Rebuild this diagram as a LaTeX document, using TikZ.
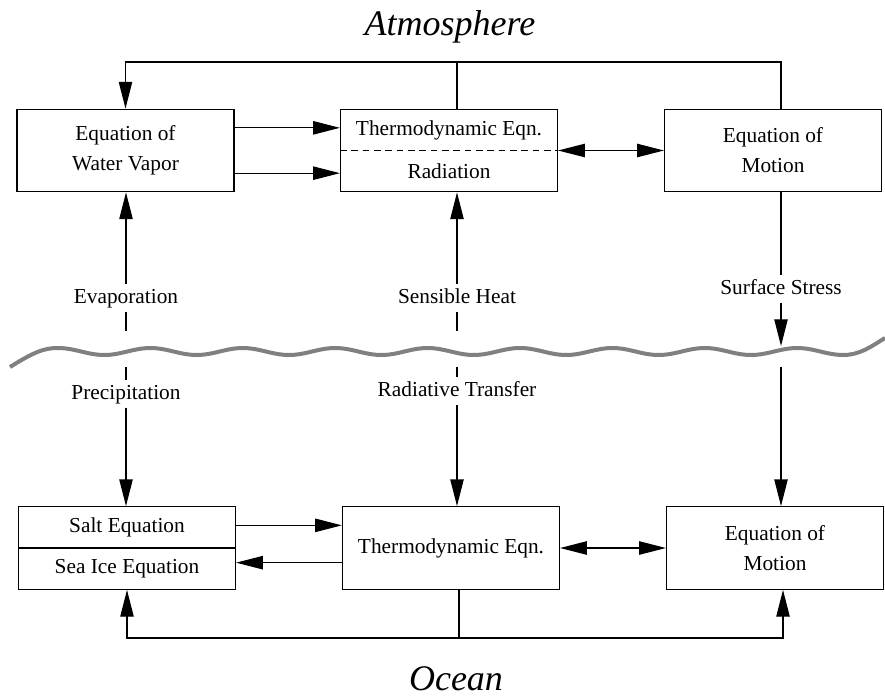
\documentclass[tikz,border=0pt]{standalone}
\usepackage{fontspec}
\setmainfont{Liberation Serif}
\usetikzlibrary{arrows.meta}
\definecolor{wavegray}{gray}{0.5}

\begin{document}
\begin{tikzpicture}[>={Triangle[length=20pt,width=10pt]},x=0.75pt,y=-0.75pt,line width=0.9pt,
	eqbox/.style={draw,minimum width=162.75pt,minimum height=62pt,align=center,font=\fontsize{16}{22.5}\selectfont},
	half/.style={inner sep=0pt,font=\fontsize{16}{19}\selectfont},
	flux/.style={inner sep=2.5pt,text height=11pt,text depth=3.5pt,font=\fontsize{16}{19}\selectfont},
	title/.style={font=\fontsize{27}{32}\selectfont\itshape},
	wave/.style={line width=3pt,color=wavegray,line join=round}]
	\useasboundingbox (0,0) rectangle (885,696);
	% sea surface
	\draw[wave] (10,367) .. controls (34,352) and (44,348) .. (58,348)
		-- plot[domain=58:843.4,samples=200] (\x,{351.5-3.5*cos(3.8961*(\x-58))})
		.. controls (860,355) and (872,346) .. (885,338);
	\node[title,anchor=base] (atm) at (450,36) {Atmosphere};
	\node[title,anchor=base] (ocn) at (456,690) {Ocean};
	% atmosphere boxes
	\node[eqbox] (atmW) at (125.5,150.5) {Equation of\\Water Vapor};
	\node[eqbox] (atmT) at (449,150.5) {};
	\node[half] (atmTt) at (449,130) {Thermodynamic Eqn.};
	\node[half] (atmTr) at (449,171.5) {Radiation};
	\node[eqbox] (atmM) at (773,150.5) {Equation of\\Motion};
	% ocean boxes
	\node[eqbox] (ocnS) at (127,548) {};
	\node[half] (ocnSs) at (127,527.5) {Salt Equation};
	\node[half] (ocnSi) at (127,568.5) {Sea Ice Equation};
	\node[eqbox] (ocnT) at (451,548) {Thermodynamic Eqn.};
	\node[eqbox] (ocnM) at (775,548) {Equation of\\Motion};
	% fluxes
	\node[flux] (evap) at (126,298) {Evaporation};
	\node[flux] (prec) at (126,394) {Precipitation};
	\node[flux] (sens) at (457,298) {Sensible Heat};
	\node[flux] (radt) at (457,391) {Radiative Transfer};
	\node[flux] (sstr) at (781,289) {Surface Stress};
	\coordinate (topbar) at (0,62);
	\coordinate (botbar) at (0,638);
	\coordinate (seaN) at (0,331);
	\coordinate (seaS) at (0,367);
	\coordinate (sstrtip) at (781,346);
	% atmosphere links
	\draw[dashed,dash pattern=on 5pt off 3.5pt] (atmT.west) -- (atmT.east);
	\draw[->] ([yshift=17pt]atmW.east) -- ([yshift=17pt]atmT.west);
	\draw[->] ([yshift=-17pt]atmW.east) -- ([yshift=-17pt]atmT.west);
	\draw[<->] (atmT.east) -- (atmM.west);
	\draw[->] ([xshift=6pt]atmM.north) |- (atmW.north |- topbar) -- (atmW.north);
	\draw ([xshift=6pt]atmT.north) -- ([xshift=6pt]atmT.north |- topbar);
	% air-sea links
	\draw[->] (evap.north) -- (evap.north |- atmW.south);
	\draw (evap.south) -- (evap.south |- seaN);
	\draw (prec.north |- seaS) -- (prec.north);
	\draw[->] (prec.south) -- (prec.south |- ocnS.north);
	\draw[->] (sens.north) -- (sens.north |- atmT.south);
	\draw (sens.south) -- (sens.south |- seaN);
	\draw (radt.north |- seaS) -- (radt.north);
	\draw[->] (radt.south) -- (radt.south |- ocnT.north);
	\draw ([xshift=6pt]atmM.south) -- (sstr.north);
	\draw[->] (sstr.south) -- (sstrtip);
	\draw[->] (sstr.south |- seaS) -- (sstr.south |- ocnM.north);
	% ocean links
	\draw (ocnS.west) -- (ocnS.east);
	\draw[->] ([yshift=17pt]ocnS.east) -- ([yshift=17pt]ocnT.west);
	\draw[->] ([yshift=-11pt]ocnT.west) -- ([yshift=-11pt]ocnS.east);
	\draw[<->] (ocnT.east) -- (ocnM.west);
	\draw[->] ([xshift=6pt]ocnT.south) |- (ocnS.south |- botbar) -- (ocnS.south);
	\draw[->] ([xshift=6pt]ocnT.south |- botbar) -| ([xshift=6pt]ocnM.south);
\end{tikzpicture}
\end{document}
